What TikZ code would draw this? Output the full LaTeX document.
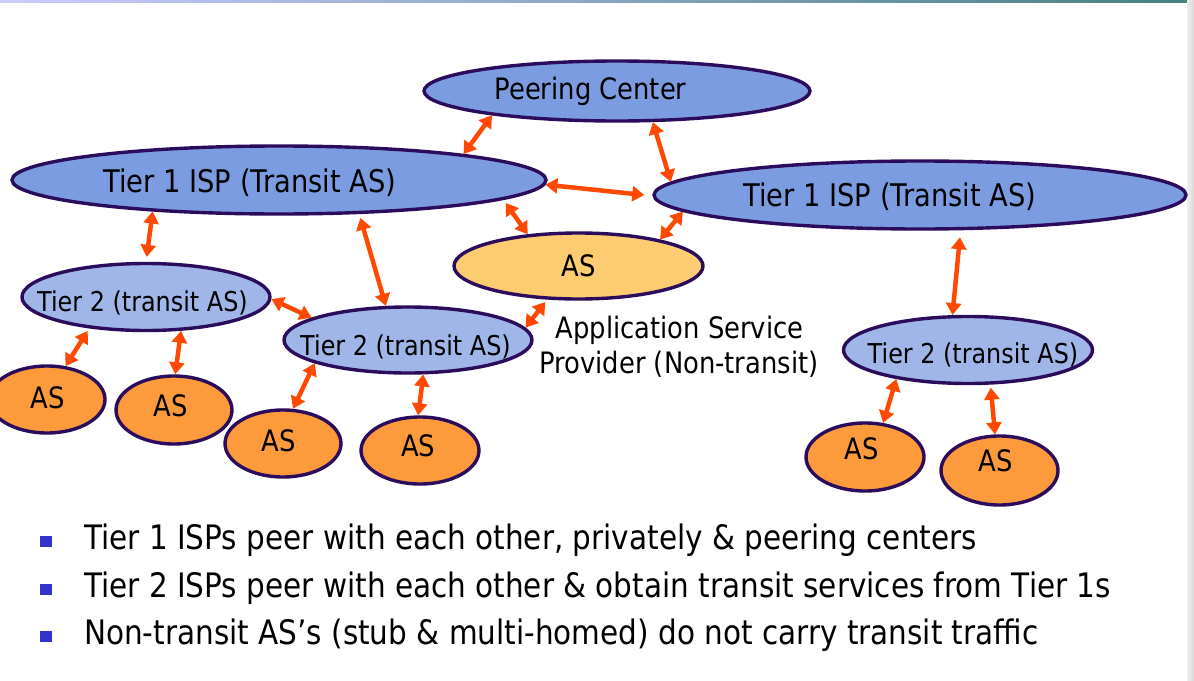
\documentclass[tikz,border=0pt]{standalone}
\usepackage{fontspec}
\setmainfont[FakeStretch=0.875]{DejaVu Sans}
\usetikzlibrary{shapes.geometric,arrows.meta}
\definecolor{tone}{RGB}{123,156,225}
\definecolor{ttwo}{RGB}{160,182,232}
\definecolor{yell}{RGB}{253,204,112}
\definecolor{oran}{RGB}{252,154,60}
\definecolor{bord}{RGB}{43,12,92}
\definecolor{arrc}{RGB}{255,72,0}
\definecolor{bulc}{RGB}{51,51,204}
\definecolor{lav}{RGB}{204,204,255}
\definecolor{tealc}{RGB}{70,128,128}
\begin{document}
\begin{tikzpicture}[x=1pt,y=-1pt,
  ell/.style={ellipse,draw=bord,line width=3.4pt,inner sep=0pt},
  big/.style={anchor=base,inner sep=0pt,font=\fontsize{29.5}{35}\selectfont},
  tier/.style={anchor=base,inner sep=0pt,font=\fontsize{31.2}{37}\selectfont},
  small/.style={anchor=base,inner sep=0pt,font=\fontsize{27.3}{32}\selectfont},
  btxt/.style={anchor=base west,inner sep=0pt,font=\fontsize{33.7}{40}\selectfont},
  bul/.style={fill=bulc,minimum width=12pt,minimum height=11pt,inner sep=0pt},
  arr/.style={<->,>={Triangle[length=12pt,width=15pt]},draw=arrc,line width=4.5pt}]
\useasboundingbox (0,0) rectangle (1194,680);
\clip (0,0) rectangle (1194,680);
\fill[white] (0,0) rectangle (1194,680);
\shade[left color=lav,right color=tealc] (0,0) rectangle (1187,2);
\shade[left color=gray!12,right color=gray!30] (1187,0) rectangle (1194,680);

% ellipses
\node[ell,fill=tone,minimum width=386pt,minimum height=60pt] (pc) at (617,91) {};
\node[ell,fill=tone,minimum width=534pt,minimum height=68pt] (t1l) at (279,180) {};
\node[ell,fill=tone,minimum width=532pt,minimum height=68pt] (t1r) at (920,195) {};
\node[ell,fill=yell,minimum width=249pt,minimum height=66pt] (asy) at (578.5,266) {};
\node[ell,fill=ttwo,minimum width=248pt,minimum height=67pt] (t2l) at (146,297) {};
\node[ell,fill=ttwo,minimum width=248pt,minimum height=66pt] (t2m) at (408,340) {};
\node[ell,fill=ttwo,minimum width=249pt,minimum height=67pt] (t2r) at (968,350) {};
\node[ell,fill=oran,minimum width=116pt,minimum height=67pt] (as1) at (47,399.5) {};
\node[ell,fill=oran,minimum width=116pt,minimum height=68pt] (as2) at (174,410) {};
\node[ell,fill=oran,minimum width=116pt,minimum height=67pt] (as3) at (283,443.5) {};
\node[ell,fill=oran,minimum width=118pt,minimum height=67pt] (as4) at (420,450.5) {};
\node[ell,fill=oran,minimum width=118pt,minimum height=68pt] (as5) at (865,457) {};
\node[ell,fill=oran,minimum width=117pt,minimum height=69pt] (as6) at (999.5,470.5) {};

% labels
\node[big] (pct) at (590.5,99) {Peering Center};
\node[tier] (t1lt) at (250,192) {Tier 1 ISP (Transit AS)};
\node[tier] (t1rt) at (890,206) {Tier 1 ISP (Transit AS)};
\node[big] (asyt) at (578.5,276) {AS};
\node[small] (t2lt) at (142.5,311) {Tier 2 (transit AS)};
\node[small] (t2mt) at (405.5,355) {Tier 2 (transit AS)};
\node[small] (t2rt) at (973,363) {Tier 2 (transit AS)};
\node[big] (as1t) at (47.5,408) {AS};
\node[big] (as2t) at (170.5,416.5) {AS};
\node[big] (as3t) at (278.5,451.5) {AS};
\node[big] (as4t) at (418.3,456.5) {AS};
\node[big] (as5t) at (862,459) {AS};
\node[big] (as6t) at (996,471.5) {AS};
\node[big] (app1) at (679.5,338) {Application Service};
\node[big] (app2) at (679,373) {Provider (Non-transit)};

% arrows
\draw[arr] (pc.191) -- (t1l.8);
\draw[arr] (pc.319) -- (t1r.177);
\draw[arr] (t1l.359) -- ([xshift=-8pt]t1r.180);
\draw[arr,shorten <=4pt] (t1l.355) -- (asy.148);
\draw[arr] (t1r.184) -- (asy.18);
\draw[arr,shorten >=5pt] (t1l.194) -- (t2l.90);
\draw[arr,shorten <=4pt] (t1l.337) -- (t2m.123);
\draw[arr] (t2l.359) -- (t2m.167.5);
\draw[arr,shorten <=3pt] (asy.227) -- (t2m.6);
\draw[arr,shorten <=7pt] (t1r.319) -- (t2r.114);
\draw[arr,shorten <=3pt] (t2l.209) -- (as1.61);
\draw[arr] (t2l.316) -- (as2.88);
\draw[arr] (t2m.194) -- (as3.74);
\draw[arr] (t2m.294) -- (as4.93);
\draw[arr] (t2r.202) -- (as5.62);
\draw[arr,shorten <=3pt] (t2r.303) -- (as6.97);

% bullets
\node[bul] (b1) at (46,541.5) {};
\node[bul] (b2) at (46,589) {};
\node[bul] (b3) at (46,636) {};
\node[btxt] (l1) at (84,549) {Tier 1 ISPs peer with each other, privately \& peering centers};
\node[btxt] (l2) at (84,597) {Tier 2 ISPs peer with each other \& obtain transit services from Tier 1s};
\node[btxt] (l3) at (84,644) {Non-transit AS’s (stub \& multi-homed) do not carry transit traffic};
\end{tikzpicture}
\end{document}
